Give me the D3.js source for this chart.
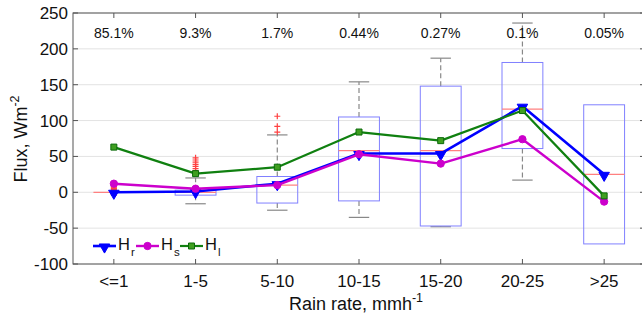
<!DOCTYPE html>
<html><head><meta charset="utf-8">
<script src="https://cdn.jsdelivr.net/npm/d3@7"></script>
<style>body{margin:0;background:#fff}svg{display:block;font-family:"Liberation Sans",Arial,sans-serif}</style>
</head><body><svg id="c" width="642" height="320"></svg>
<script>
const categories = ["<=1","1-5","5-10","10-15","15-20","20-25",">25"];
const percents = ["85.1%","9.3%","1.7%","0.44%","0.27%","0.1%","0.05%"];
const yTicks = [-100,-50,0,50,100,150,200,250];
const Hr = [0, 1, 12, 54, 54, 120, 25];
const Hs = [12, 5, 10, 53, 40, 74, -13];
const Hl = [63, 26, 35, 84, 72, 114, -5];
const boxQ1 = [0, -4, -15, -12, -47, 61, -72];
const boxMedian = [0, 0, 10, 58, 58, 116, 25];
const boxQ3 = [0, 3, 22, 105, 148, 181, 122];
const whiskerLow = [0, -16, -25, -35, -48, 17, -72];
const whiskerHigh = [0, 20, 80, 154, 187, 236, 122];
const outlierCat = [0,0,0,0,0,0,0,0,0,0,0,0,0,0,0, 1,1,1,1,1,1,1, 2,2,2];
const outlierVal = [-4,-3,-2,-1,1,2,3,4,5,6,7,8,9,10,11, 30,33,36,39,42,45,48, 84,92,106];

const svg = d3.select("#c");
const L=73, R=645, T=13, B=264;
const x = d3.scaleLinear().domain([0.5,7.5]).range([L,R]);
const y = d3.scaleLinear().domain([-100,250]).range([B,T]);
const bw = x(1.25)-x(1);   // half box width
const cw = x(1.125)-x(1);  // half cap width

// grid
svg.append("g").selectAll("line").data(yTicks).join("line")
  .attr("x1",L).attr("x2",R).attr("y1",d=>y(d)).attr("y2",d=>y(d))
  .attr("stroke","#e3e3e3").attr("stroke-width",1);

// boxplots
const bp = svg.append("g");
categories.forEach((c,i)=>{
  const cx = x(i+1);
  if (whiskerHigh[i] > boxQ3[i]) {
    bp.append("line").attr("x1",cx).attr("x2",cx).attr("y1",y(boxQ3[i])).attr("y2",y(whiskerHigh[i]))
      .attr("stroke","#888").attr("stroke-width",1.2).attr("stroke-dasharray","5,3");
    bp.append("line").attr("x1",cx-cw).attr("x2",cx+cw).attr("y1",y(whiskerHigh[i])).attr("y2",y(whiskerHigh[i]))
      .attr("stroke","#888").attr("stroke-width",1.2);
  }
  if (whiskerLow[i] < boxQ1[i]) {
    bp.append("line").attr("x1",cx).attr("x2",cx).attr("y1",y(boxQ1[i])).attr("y2",y(whiskerLow[i]))
      .attr("stroke","#888").attr("stroke-width",1.2).attr("stroke-dasharray","5,3");
  }
  if (whiskerLow[i] < boxQ1[i] || (i===4)) {
    bp.append("line").attr("x1",cx-cw).attr("x2",cx+cw).attr("y1",y(whiskerLow[i])).attr("y2",y(whiskerLow[i]))
      .attr("stroke","#888").attr("stroke-width",1.2);
  }
  bp.append("rect").attr("x",cx-bw).attr("width",2*bw)
    .attr("y",y(boxQ3[i])).attr("height",Math.max(0,y(boxQ1[i])-y(boxQ3[i])))
    .attr("fill","none").attr("stroke","#8080ff").attr("stroke-width",1);
  bp.append("line").attr("x1",cx-bw).attr("x2",cx+bw).attr("y1",y(boxMedian[i])).attr("y2",y(boxMedian[i]))
    .attr("stroke","#ff8080").attr("stroke-width",1.2);
});
outlierVal.forEach((v,k)=>{
  const cx = x(outlierCat[k]+1), cy = y(v);
  bp.append("path").attr("d",`M${cx-3},${cy}H${cx+3}M${cx},${cy-3}V${cy+3}`)
    .attr("stroke","#ff4040").attr("stroke-width",1.2).attr("fill","none");
});

// percent labels
svg.append("g").selectAll("text").data(percents).join("text")
  .attr("x",(d,i)=>x(i+1)).attr("y",38).attr("text-anchor","middle")
  .attr("font-size",14).attr("fill","#111").text(d=>d);

// series
const series = [
  {vals:Hr, color:"#0000ff", sym:d3.symbolTriangle, rot:180, size:48, fill:"#0000ff", stroke:"#0000ff", w:2.6, name:"H", sub:"r"},
  {vals:Hs, color:"#cc00cc", sym:d3.symbolCircle, rot:0, size:42, fill:"#cc00cc", stroke:"#cc00cc", w:2.4, name:"H", sub:"s"},
  {vals:Hl, color:"#108010", sym:d3.symbolSquare, rot:0, size:36, fill:"#3f9f20", stroke:"#0a6a0a", w:2.2, name:"H", sub:"l"}
];
const line = d3.line().x((d,i)=>x(i+1)).y(d=>y(d));
series.forEach(s=>{
  svg.append("path").datum(s.vals).attr("d",line).attr("fill","none")
    .attr("stroke",s.color).attr("stroke-width",s.w).attr("stroke-linejoin","round");
  svg.append("g").selectAll("path").data(s.vals).join("path")
    .attr("d",d3.symbol().type(s.sym).size(s.size))
    .attr("transform",(d,i)=>`translate(${x(i+1)},${y(d)+(s.rot?1:0)}) rotate(${s.rot})`)
    .attr("fill",s.fill).attr("stroke",s.stroke).attr("stroke-width",1);
});

// legend
const legX = [93,136,180], legY = 246;
series.forEach((s,k)=>{
  const lx = legX[k];
  svg.append("line").attr("x1",lx).attr("x2",lx+23).attr("y1",legY).attr("y2",legY)
    .attr("stroke",s.color).attr("stroke-width",s.w);
  svg.append("path").attr("d",d3.symbol().type(s.sym).size(s.size))
    .attr("transform",`translate(${lx+11.5},${legY+(s.rot?1:0)}) rotate(${s.rot})`)
    .attr("fill",s.fill).attr("stroke",s.stroke).attr("stroke-width",1);
  const t = svg.append("text").attr("x",lx+25).attr("y",legY+3.5).attr("font-size",16.5).attr("fill","#111");
  t.append("tspan").text(s.name);
  t.append("tspan").attr("font-size",11.5).attr("dy",6).attr("dx",1).text(s.sub);
});

// axes frame
const ax = svg.append("g").attr("stroke","#555").attr("fill","none").attr("stroke-width",1);
ax.append("rect").attr("x",L).attr("y",T).attr("width",R-L).attr("height",B-T);
yTicks.forEach(v=>{
  ax.append("line").attr("x1",L).attr("x2",L+5).attr("y1",y(v)).attr("y2",y(v));
  ax.append("line").attr("x1",R-5).attr("x2",R).attr("y1",y(v)).attr("y2",y(v));
});
categories.forEach((c,i)=>{
  ax.append("line").attr("x1",x(i+1)).attr("x2",x(i+1)).attr("y1",B).attr("y2",B-5);
  ax.append("line").attr("x1",x(i+1)).attr("x2",x(i+1)).attr("y1",T).attr("y2",T+5);
});

// tick labels
svg.append("g").selectAll("text").data(yTicks).join("text")
  .attr("x",68).attr("y",d=>y(d)+6).attr("text-anchor","end")
  .attr("font-size",17).attr("fill","#111").text(d=>d);
svg.append("g").selectAll("text").data(categories).join("text")
  .attr("x",(d,i)=>x(i+1)).attr("y",287).attr("text-anchor","middle")
  .attr("font-size",17).attr("fill","#111").text(d=>d);

// axis titles
const xt = svg.append("text").attr("x",356).attr("y",310).attr("text-anchor","middle")
  .attr("font-size",18).attr("fill","#111");
xt.append("tspan").text("Rain rate, mmh");
xt.append("tspan").attr("font-size",12.5).attr("dy",-8).text("-1");
const yt = svg.append("text").attr("transform","translate(27,139) rotate(-90)").attr("text-anchor","middle")
  .attr("font-size",18).attr("fill","#111");
yt.append("tspan").text("Flux, Wm");
yt.append("tspan").attr("font-size",12.5).attr("dy",-8).text("-2");
</script></body></html>
